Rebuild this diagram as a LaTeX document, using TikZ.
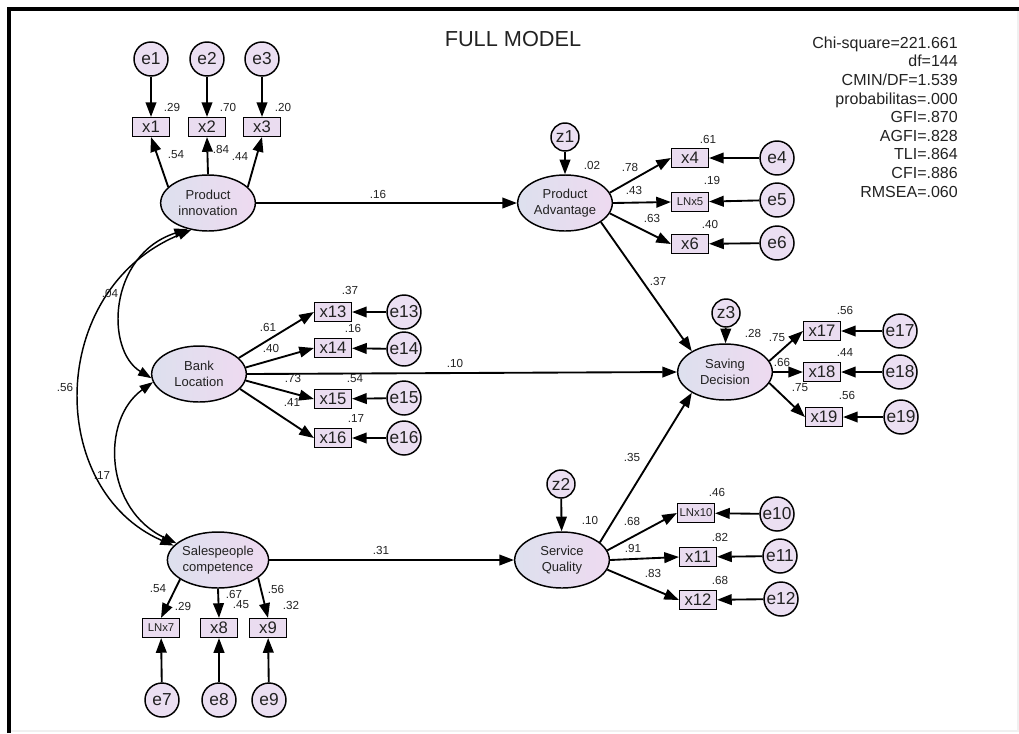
\documentclass[tikz,border=0pt]{standalone}
\usepackage{fontspec}
\setmainfont{Liberation Sans}
\usetikzlibrary{arrows.meta,shapes.geometric}
\definecolor{boxfill}{HTML}{EADCF0}
\definecolor{circfill}{HTML}{EBDFF2}
\definecolor{ellleft}{HTML}{DDE0EE}
\definecolor{ellright}{HTML}{EEDAF0}
\definecolor{txt}{HTML}{222222}
\tikzset{
  obs/.style={draw, line width=1.1pt, fill=boxfill, rectangle, minimum width=27.5pt, minimum height=14pt, inner sep=0pt, text=txt, font=\fontsize{12.5}{12.5}\selectfont},
  lnobs/.style={obs, font=\fontsize{8.5}{9}\selectfont},
  err/.style={draw, line width=1.1pt, fill=circfill, circle, minimum size=25.5pt, inner sep=0pt, text=txt, font=\fontsize{13}{13}\selectfont},
  dist/.style={err, minimum size=21pt},
  lat/.style={draw, line width=1.1pt, ellipse, left color=ellleft, right color=ellright, minimum width=71pt, minimum height=42pt, inner sep=0pt, align=center, text=txt, font=\fontsize{9.75}{12}\selectfont},
  path/.style={line width=1.4pt, -{Triangle[length=11pt,width=8pt]}},
  cov/.style={line width=1.1pt, {Triangle[length=10pt,width=7pt]}-{Triangle[length=10pt,width=7pt]}},
  lbl/.style={inner sep=0pt, text=txt, font=\fontsize{8.75}{9}\selectfont},
}
\begin{document}
\begin{tikzpicture}[x=0.75pt,y=-0.75pt]
\useasboundingbox (0,0) rectangle (1019,733);
% frame
\draw[gray!12, line width=1pt] (9,731) -- (1018,731) -- (1018,9);
\draw[line width=3pt] (9,733) -- (9,9) -- (1019,9);
% title and fit
\node[inner sep=0pt, anchor=base, text=txt, font=\fontsize{16.3}{18}\selectfont] (title) at (513,46) {FULL MODEL};
\node[inner sep=0pt, anchor=north east, align=right, text=txt, font=\fontsize{12}{13.95}\selectfont] (fit) at (958,36.5)
 {Chi-square=221.661\\df=144\\CMIN/DF=1.539\\probabilitas=.000\\GFI=.870\\AGFI=.828\\TLI=.864\\CFI=.886\\RMSEA=.060};

% Product innovation block
\node[err] (e1) at (151,59) {e1};
\node[err] (e2) at (207,59) {e2};
\node[err] (e3) at (262,59) {e3};
\node[obs] (x1) at (151,127) {x1};
\node[obs] (x2) at (207,127) {x2};
\node[obs] (x3) at (262,127) {x3};
\node[lat] (PI) at (208,203) {Product\\innovation};

% Product advantage block
\node[dist] (z1) at (565,137) {z1};
\node[lat] (PA) at (565,203) {Product\\Advantage};
\node[obs] (x4) at (690,158) {x4};
\node[lnobs] (LNx5) at (690,202) {LNx5};
\node[obs] (x6) at (690,244) {x6};
\node[err] (e4) at (777,158) {e4};
\node[err] (e5) at (777,200) {e5};
\node[err] (e6) at (777,243) {e6};

% Bank location block
\node[lat] (BL) at (199,374) {Bank\\Location};
\node[obs] (x13) at (333,312) {x13};
\node[obs] (x14) at (333,348) {x14};
\node[obs] (x15) at (333,399) {x15};
\node[obs] (x16) at (333,438) {x16};
\node[err] (e13) at (404,312) {e13};
\node[err] (e14) at (404,349) {e14};
\node[err] (e15) at (404,398) {e15};
\node[err] (e16) at (404,438) {e16};

% Saving decision block
\node[dist] (z3) at (726,313) {z3};
\node[lat] (SD) at (725,372) {Saving\\Decision};
\node[obs] (x17) at (822,331) {x17};
\node[obs] (x18) at (822,372) {x18};
\node[obs] (x19) at (824,417) {x19};
\node[err] (e17) at (900,331) {e17};
\node[err] (e18) at (900,372) {e18};
\node[err] (e19) at (901,417) {e19};

% Salespeople block
\node[lat] (SC) at (218,560) {Salespeople\\competence};
\node[lnobs] (LNx7) at (161,628) {LNx7};
\node[obs] (x8) at (219,628) {x8};
\node[obs] (x9) at (268,628) {x9};
\node[err] (e7) at (162,700) {e7};
\node[err] (e8) at (219,700) {e8};
\node[err] (e9) at (269,700) {e9};

% Service quality block
\node[dist] (z2) at (561,484) {z2};
\node[lat] (SQ) at (562,560) {Service\\Quality};
\node[lnobs] (LNx10) at (696,513) {LNx10};
\node[obs] (x11) at (698,557) {x11};
\node[obs] (x12) at (698,600) {x12};
\node[err] (e10) at (777,514) {e10};
\node[err] (e11) at (780,556) {e11};
\node[err] (e12) at (781,599) {e12};

% error arrows
\foreach \a/\b in {e1/x1,e2/x2,e3/x3,e4/x4,e5/LNx5,e6/x6,e13/x13,e14/x14,e15/x15,e16/x16,e17/x17,e18/x18,e19/x19,e7/LNx7,e8/x8,e9/x9,e10/LNx10,e11/x11,e12/x12,z1/PA,z2/SQ,z3/SD}
  \draw[path] (\a) -- (\b);

% loadings
\draw[path] (PI.158) -- (x1.south);
\draw[path] (PI.north) -- (x2.south);
\draw[path] (PI.22) -- (x3.south);
\draw[path] (PA.13) -- (x4.west);
\draw[path] (PA.east) -- (LNx5.west);
\draw[path] (PA.-13) -- (x6.west);
\draw[path] (BL.22) -- (x13.west);
\draw[path] (BL.8) -- (x14.west);
\draw[path] (BL.-8) -- (x15.west);
\draw[path] (BL.-20) -- (x16.west);
\draw[path] (SD.14) -- (x17.west);
\draw[path] (SD.east) -- (x18.west);
\draw[path] (SD.-14) -- (x19.west);
\draw[path] (SC.207) -- (LNx7.north);
\draw[path] (SC.south) -- (x8.north);
\draw[path] (SC.-24) -- (x9.north);
\draw[path] (SQ.12) -- (LNx10.west);
\draw[path] (SQ.east) -- (x11.west);
\draw[path] (SQ.-12) -- (x12.west);

% structural paths
\draw[path] (PI.east) -- (PA.west);
\draw[path] (BL.east) -- (SD.west);
\draw[path] (SC.east) -- (SQ.west);
\draw[path] (PA.-28) -- (SD.148);
\draw[path] (SQ.25) -- (SD.212);

% covariances
\draw[cov] (PI.232) .. controls (108,255) and (105,350) .. (BL.185);
\draw[cov] (PI.238) .. controls (46,290) and (46,490) .. (SC.162);
\draw[cov] (BL.190) .. controls (100,420) and (105,510) .. (SC.158);

% labels
\node[lbl] (l1) at (172,107) {.29};
\node[lbl] (l2) at (228,107) {.70};
\node[lbl] (l3) at (283,107) {.20};
\node[lbl] (l4) at (176,155) {.54};
\node[lbl] (l5) at (221,149) {.84};
\node[lbl] (l6) at (240,156) {.44};
\node[lbl] (l7) at (378,194) {.16};
\node[lbl] (l8) at (592,165) {.02};
\node[lbl] (l9) at (630,167) {.78};
\node[lbl] (l10) at (634,190) {.43};
\node[lbl] (l11) at (652,218) {.63};
\node[lbl] (l12) at (708,139) {.61};
\node[lbl] (l13) at (712,180) {.19};
\node[lbl] (l14) at (710,224) {.40};
\node[lbl] (l15) at (658,281) {.37};
\node[lbl] (l16) at (110,293) {.04};
\node[lbl] (l17) at (65,387) {.56};
\node[lbl] (l18) at (102,475) {.17};
\node[lbl] (l19) at (350,290) {.37};
\node[lbl] (l20) at (268,327) {.61};
\node[lbl] (l21) at (353,328) {.16};
\node[lbl] (l22) at (271,348) {.40};
\node[lbl] (l23) at (455,363) {.10};
\node[lbl] (l24) at (293,378) {.73};
\node[lbl] (l25) at (355,379) {.54};
\node[lbl] (l26) at (292,402) {.41};
\node[lbl] (l27) at (356,418) {.17};
\node[lbl] (l28) at (753,333) {.28};
\node[lbl] (l29) at (777,338) {.75};
\node[lbl] (l30) at (782,362) {.66};
\node[lbl] (l31) at (800,388) {.75};
\node[lbl] (l32) at (845,310) {.56};
\node[lbl] (l33) at (845,352) {.44};
\node[lbl] (l34) at (847,395) {.56};
\node[lbl] (l35) at (632,457) {.35};
\node[lbl] (l36) at (590,520) {.10};
\node[lbl] (l37) at (632,521) {.68};
\node[lbl] (l38) at (633,548) {.91};
\node[lbl] (l39) at (653,573) {.83};
\node[lbl] (l40) at (717,492) {.46};
\node[lbl] (l41) at (720,537) {.82};
\node[lbl] (l42) at (720,580) {.68};
\node[lbl] (l43) at (381,550) {.31};
\node[lbl] (l44) at (158,589) {.54};
\node[lbl] (l45) at (183,606) {.29};
\node[lbl] (l46) at (234,594) {.67};
\node[lbl] (l47) at (241,605) {.45};
\node[lbl] (l48) at (276,589) {.56};
\node[lbl] (l49) at (291,605) {.32};
\end{tikzpicture}
\end{document}
